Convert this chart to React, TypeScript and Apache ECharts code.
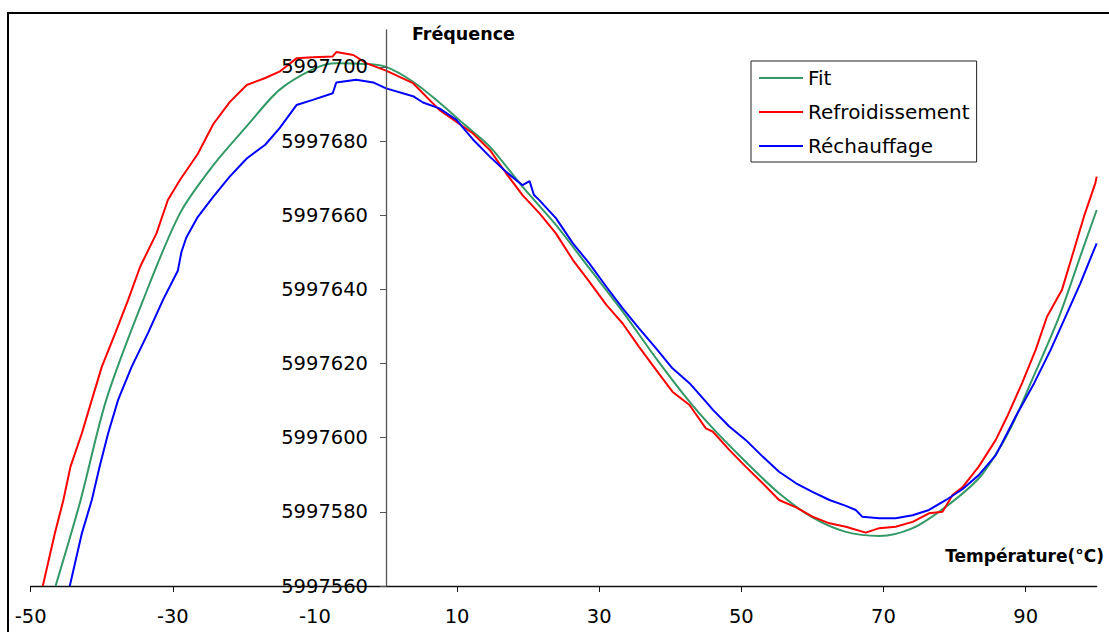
import React, { useEffect, useRef } from "react";
import * as echarts from "echarts";

// Frequencies are stored as offsets above this base value (Hz)
const BASE = 5997500;

const fitTemps = [-46.5, -43, -39.4, -34.2, -29, -24.3, -19.6, -15, -10, -7, -3, 0, 3.8, 7.5, 11, 14.6, 19.2, 23.9, 28.6, 33.3, 38, 42.7, 46, 50.6, 55.3, 60, 64.7, 69.4, 74.1, 78.8, 83.4, 85.8, 88, 90.7, 94.7, 98, 100];
const fitOffsets = [60, 83, 110, 137, 160.5, 173.5, 184, 193.8, 199.6, 201, 200.8, 200, 196, 190.4, 184.5, 178.5, 167.7, 157.4, 145.7, 134, 121.4, 109.7, 102.5, 93.5, 85, 78.5, 74.6, 73.5, 75.6, 81.4, 89, 95.5, 103, 114.7, 132.6, 150.6, 161.4];

const coolTemps = [-48.3, -46.6, -45.4, -44.4, -42.8, -41.4, -40, -38.1, -36.3, -34.6, -32.3, -30.7, -29, -26.5, -24.3, -22, -19.6, -17, -15, -12.6, -10.3, -7.5, -7, -4.6, -2.8, 0, 3.8, 7.5, 12.2, 14.6, 16.9, 19.2, 21.6, 23.9, 26.3, 28.6, 31, 33.3, 35.6, 38, 40.3, 42.7, 45, 46, 48.3, 50.6, 53, 55.3, 57.7, 60, 62.4, 64.7, 67.5, 69.4, 71.7, 74.1, 76.4, 78.3, 79.7, 81.1, 83.4, 85.8, 87.4, 89.5, 91.4, 93, 95.1, 96.8, 98.2, 99.8, 100];
const coolOffsets = [60, 74.2, 83.2, 92.2, 101.2, 110.2, 119.1, 128.2, 137.1, 146.1, 155.1, 164.1, 169.5, 176.5, 184.6, 190.5, 195.1, 197, 198.7, 202.3, 202.6, 202.8, 204, 203.2, 201, 199, 195.6, 188.4, 182.1, 177.6, 171.3, 165.4, 160.5, 155.1, 147.9, 142.1, 135.8, 130.8, 124.5, 118.3, 112.4, 108.8, 102.5, 101.6, 96.7, 92.2, 87.7, 83.2, 81.2, 78.7, 76.9, 76, 74.4, 75.6, 76, 77.3, 79.6, 80, 84.5, 86.6, 92.2, 99.4, 105.7, 114.7, 123.6, 132.6, 139.8, 150.6, 159.6, 168.6, 170.4];

const heatTemps = [-44.5, -42.8, -41.4, -40.3, -39.1, -37.7, -35.8, -33.5, -31.4, -29.3, -28.8, -28.1, -26.5, -24.3, -22, -19.6, -17, -15, -12.6, -10.3, -7.5, -7, -4.2, -1.8, 0, 3.8, 5.2, 7.5, 9.9, 12.2, 14.6, 16.9, 19.2, 20.2, 20.8, 21.6, 23.9, 26.3, 28.6, 31, 33.3, 35.6, 38, 40.3, 42.7, 45, 46, 48.3, 50.6, 53, 55.3, 57.7, 60, 62.4, 64.7, 66.1, 67, 69.4, 71.7, 74.1, 76.4, 78.8, 81.1, 83.4, 85.8, 87.4, 88.6, 91.2, 93.5, 95.6, 97.7, 99.6, 100];
const heatOffsets = [60, 74.2, 83.2, 92.2, 101.2, 110.2, 119.1, 128.2, 137.1, 145, 150, 154, 159.5, 165, 170.4, 175.3, 179, 183.4, 189.7, 191.1, 192.9, 195.8, 196.5, 195.8, 194.2, 192.1, 190.4, 188.8, 185.7, 180.5, 175.8, 171.7, 168.1, 169.2, 165.5, 164, 159.2, 152.4, 147, 140.7, 134.9, 129.5, 124.1, 118.7, 114.7, 109.7, 107.5, 103, 99.4, 94.9, 90.8, 87.7, 85.4, 83.2, 81.6, 80.5, 78.7, 78.3, 78.3, 79.1, 80.5, 83.2, 86.1, 89.9, 95.3, 101.2, 105.7, 114.7, 123.6, 132.6, 141.6, 150.6, 152.4];

const seriesNames = ["Fit", "Refroidissement", "Réchauffage"];
const xTicks = [-50, -30, -10, 10, 30, 50, 70, 90];
const yTicks = [5997560, 5997580, 5997600, 5997620, 5997640, 5997660, 5997680, 5997700];

const FONT = "'DejaVu Sans', Arial, sans-serif";

const GRID_LEFT = 30.7;
const GRID_WIDTH = 1066;
const X_MIN = -50;
const X_MAX = 100;

function pairs(t: number[], f: number[]) {
  return t.map((x, i) => [x, BASE + f[i]]);
}

export default function App() {
  const ref = useRef<HTMLDivElement>(null);
  useEffect(() => {
    document.body.style.margin = "0";
    const chart = echarts.init(ref.current!, null, { renderer: "svg" });
    // y axis crosses the x axis at temperature 0
    const yAxisOffset = -((0 - X_MIN) / (X_MAX - X_MIN)) * GRID_WIDTH;
    chart.setOption({
      animation: false,
      backgroundColor: "#fff",
      grid: { left: GRID_LEFT, top: 29.8, width: GRID_WIDTH, height: 556.2, containLabel: false, outerBoundsMode: "none" },
      xAxis: {
        type: "value",
        min: X_MIN,
        max: X_MAX,
        axisLine: { onZero: false, lineStyle: { color: "#111", width: 1.3 } },
        axisTick: { show: true, length: 6, inside: false, customValues: xTicks, lineStyle: { color: "#111" } },
        axisLabel: { customValues: xTicks, fontSize: 19.5, fontFamily: FONT, color: "#000", margin: 20, formatter: (v: number) => String(v) },
        splitLine: { show: false },
      },
      yAxis: {
        type: "value",
        min: 5997560,
        max: 5997710,
        z: 10,
        position: "left",
        offset: yAxisOffset,
        axisLine: { show: true, onZero: false, lineStyle: { color: "#555", width: 1.3 } },
        axisTick: { show: true, length: 6, inside: false, customValues: yTicks, lineStyle: { color: "#555" } },
        axisLabel: { customValues: yTicks, fontSize: 19.5, fontFamily: FONT, color: "#000", margin: 18, formatter: (v: number) => String(v) },
        splitLine: { show: false },
      },
      legend: {
        orient: "vertical",
        left: 751,
        top: 61,
        padding: [7, 7, 6, 8],
        itemGap: 14,
        itemWidth: 44,
        itemHeight: 2,
        icon: "rect",
        backgroundColor: "#fff",
        borderColor: "#222",
        borderWidth: 1,
        z: 20,
        textStyle: { fontSize: 20, fontFamily: FONT, color: "#000", lineHeight: 20 },
        data: seriesNames,
      },
      graphic: [
        {
          type: "rect",
          z: -1,
          shape: { x: 8, y: 13, width: 1200, height: 700 },
          style: { fill: "none", stroke: "#000", lineWidth: 2 },
          silent: true,
        },
        {
          type: "text",
          x: 412,
          y: 34,
          z: 30,
          style: { text: "Fréquence", font: `bold 17.5px ${FONT}`, fill: "#000", verticalAlign: "middle" },
        },
        {
          type: "text",
          x: 1104,
          y: 556,
          z: 30,
          style: { text: "Température(°C)", font: `bold 17px ${FONT}`, fill: "#000", align: "right", verticalAlign: "middle" },
        },
      ],
      series: [
        {
          name: seriesNames[0],
          type: "line",
          data: pairs(fitTemps, fitOffsets),
          showSymbol: false,
          smooth: 0.3,
          lineStyle: { color: "#339966", width: 2 },
          itemStyle: { color: "#339966" },
        },
        {
          name: seriesNames[1],
          type: "line",
          data: pairs(coolTemps, coolOffsets),
          showSymbol: false,
          lineStyle: { color: "#ff0000", width: 2 },
          itemStyle: { color: "#ff0000" },
        },
        {
          name: seriesNames[2],
          type: "line",
          data: pairs(heatTemps, heatOffsets),
          showSymbol: false,
          lineStyle: { color: "#0000ff", width: 2 },
          itemStyle: { color: "#0000ff" },
        },
      ],
    });
    return () => chart.dispose();
  }, []);
  return <div ref={ref} style={{ width: 1109, height: 632, background: "#fff" }} />;
}
